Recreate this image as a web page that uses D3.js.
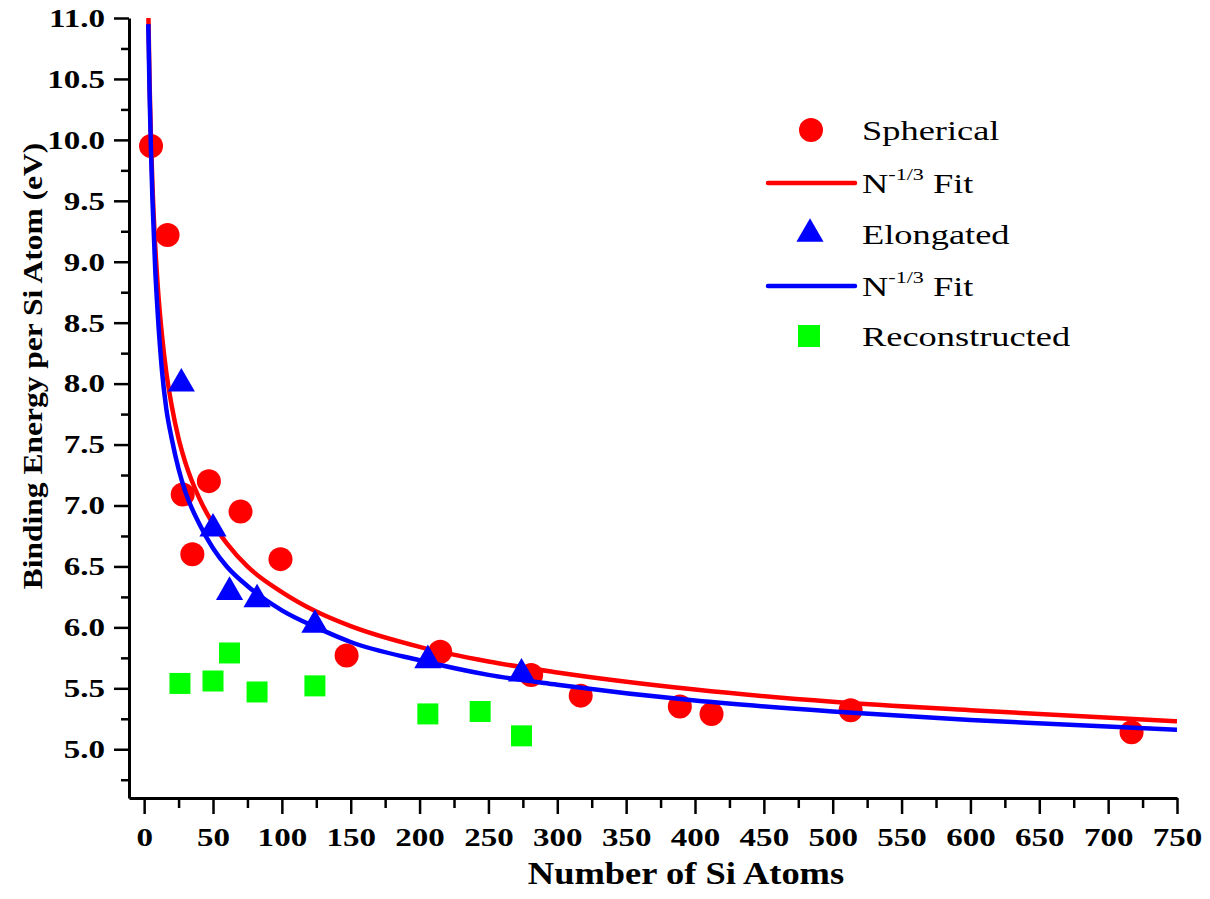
<!DOCTYPE html>
<html><head><meta charset="utf-8">
<script src="https://cdn.jsdelivr.net/npm/d3@7"></script>
<style>body{margin:0;background:#fff}svg{display:block}</style>
</head><body><svg id="c" width="1210" height="899"></svg>
<script>
// ---- data ----
const spherN = [5, 17, 28, 35, 47, 70, 99, 147, 215, 281, 317, 389, 412, 513, 717];
const spherE = [9.95, 9.22, 7.09, 6.60, 7.20, 6.95, 6.56, 5.77, 5.80, 5.61, 5.44, 5.35, 5.29, 5.32, 5.14];
const elongN = [27, 50, 62, 82, 124, 206, 274];
const elongE = [8.00, 6.81, 6.29, 6.23, 6.02, 5.73, 5.62];
const reconN = [26, 50, 62, 82, 124, 206, 244, 274];
const reconE = [5.54, 5.56, 5.79, 5.47, 5.52, 5.29, 5.31, 5.11];
const fitN    = [3, 4, 5, 6, 8, 10, 13, 16, 20, 25, 30, 40, 50, 60, 75, 100, 125, 150, 200, 250, 300, 400, 500, 600, 750];
const redFitE = [11.07, 10.44, 9.98, 9.64, 9.14, 8.78, 8.39, 8.10, 7.82, 7.55, 7.35, 7.06, 6.85, 6.69, 6.50, 6.29, 6.13, 6.01, 5.84, 5.72, 5.63, 5.49, 5.39, 5.32, 5.23];
const blueFitE= [10.95, 10.35, 9.90, 9.52, 8.95, 8.55, 8.10, 7.80, 7.55, 7.30, 7.11, 6.85, 6.65, 6.50, 6.34, 6.14, 6.00, 5.88, 5.73, 5.61, 5.53, 5.40, 5.31, 5.24, 5.16];
const xTickValues = [0, 50, 100, 150, 200, 250, 300, 350, 400, 450, 500, 550, 600, 650, 700, 750];
const xMinorValues = [25, 75, 125, 175, 225, 275, 325, 375, 425, 475, 525, 575, 625, 675, 725];
const yTickValues = [5.0, 5.5, 6.0, 6.5, 7.0, 7.5, 8.0, 8.5, 9.0, 9.5, 10.0, 10.5, 11.0];
const yMinorValues = [4.75, 5.25, 5.75, 6.25, 6.75, 7.25, 7.75, 8.25, 8.75, 9.25, 9.75, 10.25, 10.75];
const xTitle = "Number of Si Atoms";
const yTitle = "Binding Energy per Si Atom (eV)";
const legendItems = [
  {type: "circle", color: "#ff0000", label: "Spherical"},
  {type: "line", color: "#ff0000", label: "fit"},
  {type: "triangle", color: "#0000ff", label: "Elongated"},
  {type: "line", color: "#0000ff", label: "fit"},
  {type: "square", color: "#00ff00", label: "Reconstructed"}
];

const svg = d3.select("#c");
const serif = "'Liberation Serif','Times New Roman',serif";
const L = 129, R = 1177, T = 18, B = 798;
const x = d3.scaleLinear().domain([-11, 750]).range([L, R]);
const y = d3.scaleLinear().domain([4.6, 11]).range([B, T]);

svg.append("defs").append("clipPath").attr("id", "clip")
  .append("rect").attr("x", L).attr("y", T).attr("width", R - L).attr("height", B - T);

function stretch(sel, f) {
  sel.each(function () {
    const l = this.getComputedTextLength();
    d3.select(this).attr("textLength", l * f).attr("lengthAdjust", "spacingAndGlyphs");
  });
}

// axes
function styleAxis(g) {
  g.selectAll("path.domain").attr("stroke", "#000").attr("stroke-width", 3);
  g.selectAll(".tick line").attr("stroke", "#000").attr("stroke-width", 2.5);
  g.selectAll("text").attr("font-family", serif).attr("font-weight", "bold")
    .attr("font-size", 26).attr("fill", "#000");
  stretch(g.selectAll("text"), 1.27);
}
const gxMinor = svg.append("g").attr("transform", `translate(0,${B})`)
  .call(d3.axisBottom(x).tickValues(xMinorValues).tickSize(10).tickSizeOuter(0).tickFormat(""));
gxMinor.select("path.domain").remove();
styleAxis(gxMinor);
const gx = svg.append("g").attr("transform", `translate(0,${B})`)
  .call(d3.axisBottom(x).tickValues(xTickValues).tickSize(16).tickSizeOuter(0).tickPadding(14).tickFormat(d3.format("d")));
styleAxis(gx);

const gyMinor = svg.append("g").attr("transform", `translate(${L},0)`)
  .call(d3.axisLeft(y).tickValues(yMinorValues).tickSize(8).tickSizeOuter(0).tickFormat(""));
gyMinor.select("path.domain").remove();
styleAxis(gyMinor);
const gy = svg.append("g").attr("transform", `translate(${L},0)`)
  .call(d3.axisLeft(y).tickValues(yTickValues).tickSize(15).tickSizeOuter(0).tickPadding(9).tickFormat(d3.format(".1f")));
styleAxis(gy);

// titles
svg.append("text").attr("transform", "translate(686,884) scale(1.14,1)").attr("text-anchor", "middle")
  .attr("font-family", serif).attr("font-weight", "bold").attr("font-size", 32).text(xTitle);
svg.append("text").attr("transform", "translate(42,366) rotate(-90) scale(1.125,1)").attr("text-anchor", "middle")
  .attr("font-family", serif).attr("font-weight", "bold").attr("font-size", 28).text(yTitle);

const plot = svg.append("g");
const lineGen = d3.line().curve(d3.curveMonotoneX);

// spherical
plot.append("g").selectAll("circle").data(spherN.map((n, i) => [n, spherE[i]])).join("circle")
  .attr("cx", d => x(d[0])).attr("cy", d => y(d[1])).attr("r", 12).attr("fill", "#ff0000");
// red fit
plot.append("path").attr("clip-path", "url(#clip)")
  .attr("d", lineGen(fitN.map((n, i) => [x(n), y(redFitE[i])])))
  .attr("fill", "none").attr("stroke", "#ff0000").attr("stroke-width", 4.5);
// elongated
const tri = d3.symbol().type(d3.symbolTriangle).size(320);
plot.append("g").selectAll("path").data(elongN.map((n, i) => [n, elongE[i]])).join("path")
  .attr("transform", d => `translate(${x(d[0])},${y(d[1])})`).attr("d", tri).attr("fill", "#0000ff");
// blue fit
plot.append("path").attr("clip-path", "url(#clip)")
  .attr("d", lineGen(fitN.map((n, i) => [x(n), y(blueFitE[i])])))
  .attr("fill", "none").attr("stroke", "#0000ff").attr("stroke-width", 4.5);
// reconstructed
const sq = d3.symbol().type(d3.symbolSquare).size(441);
plot.append("g").selectAll("path").data(reconN.map((n, i) => [n, reconE[i]])).join("path")
  .attr("transform", d => `translate(${x(d[0])},${y(d[1])})`).attr("d", sq).attr("fill", "#00ff00");

// legend
const lg = svg.append("g");
const rowY = [130, 183, 234, 286, 336];
legendItems.forEach((it, i) => {
  const cy = rowY[i];
  if (it.type === "circle") lg.append("circle").attr("cx", 811).attr("cy", cy).attr("r", 12).attr("fill", it.color);
  if (it.type === "triangle") lg.append("path").attr("transform", `translate(810,${cy})`).attr("d", tri).attr("fill", it.color);
  if (it.type === "square") lg.append("path").attr("transform", `translate(809,${cy})`).attr("d", d3.symbol().type(d3.symbolSquare).size(484)).attr("fill", it.color);
  if (it.type === "line") lg.append("line").attr("x1", 768).attr("x2", 855).attr("y1", cy).attr("y2", cy)
    .attr("stroke", it.color).attr("stroke-width", 4.5).attr("stroke-linecap", "round");
  const t = lg.append("text").attr("transform", `translate(862,${cy}) scale(1.3,1)`).attr("dy", "0.35em")
    .attr("font-family", serif).attr("font-size", 28).attr("fill", "#000");
  if (it.label === "fit") {
    t.append("tspan").text("N");
    t.append("tspan").attr("font-size", 17).attr("dy", "-0.75em").text("-1/3");
    t.append("tspan").attr("dy", "0.45em").text("\u00a0Fit");
  } else t.text(it.label);
});
</script>
</body></html>
